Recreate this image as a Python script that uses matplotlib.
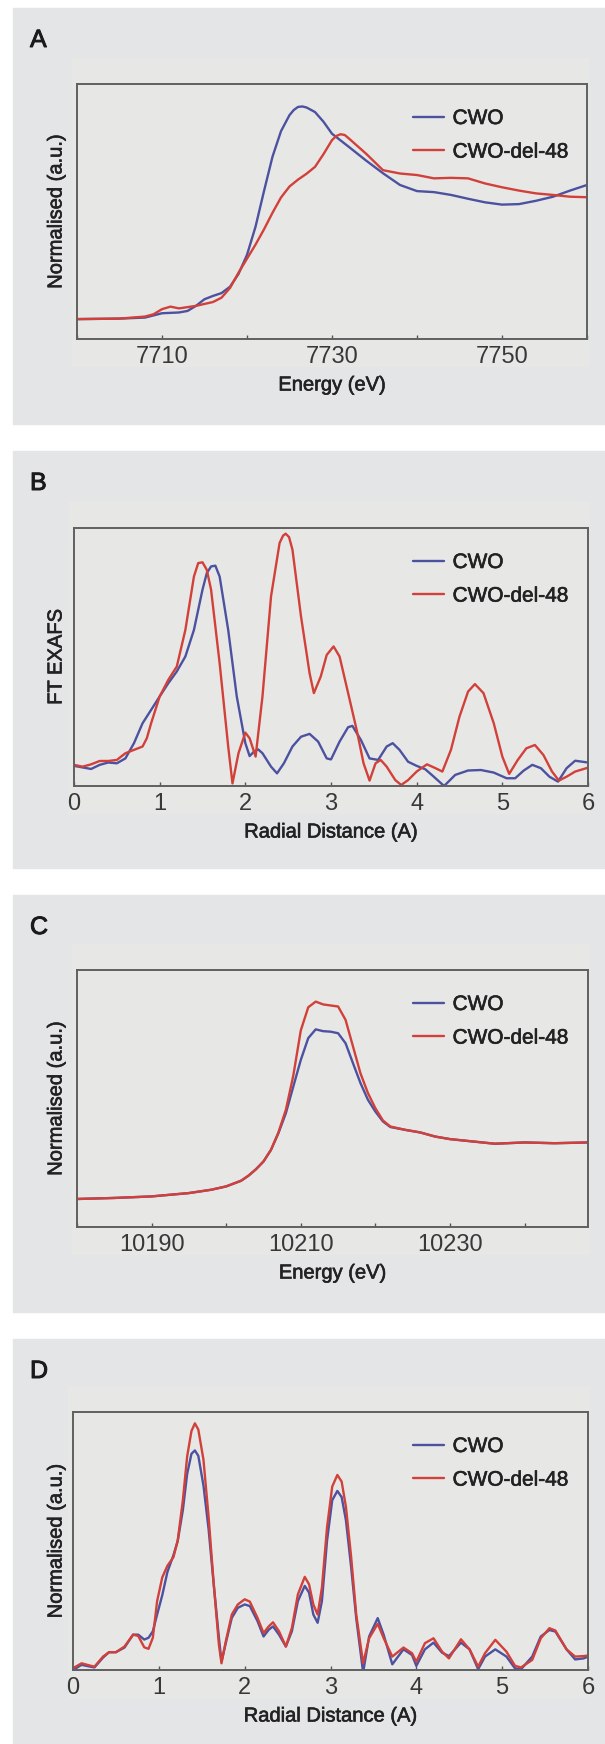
import matplotlib
matplotlib.use('Agg')
import matplotlib.pyplot as plt
import matplotlib.patheffects as pe
from matplotlib.patches import Rectangle
from matplotlib.ticker import MultipleLocator


W, H = 605, 1744

BLUE = '#4c51a0'
RED = '#d2403a'
PANEL_BG = '#e4e5e7'
PLOT_BG = '#e7e8e6'
INK = '#222222'

LABELS = ['CWO', 'CWO-del-48']

# A: Cu K-edge XANES
a_energy_cwo = [7700, 7705, 7708, 7710, 7712, 7713, 7714, 7715, 7716, 7717, 7718, 7719,
                7720, 7721, 7722, 7723, 7724, 7725, 7725.5, 7726, 7726.5, 7727, 7728, 7729,
                7730, 7732, 7734, 7736, 7738, 7740, 7742, 7744, 7746, 7748, 7750, 7752, 7754,
                7756, 7758, 7760]
a_cwo = [0.078, 0.080, 0.084, 0.101, 0.104, 0.110, 0.130, 0.156, 0.169, 0.180, 0.205, 0.255,
         0.330, 0.440, 0.580, 0.715, 0.815, 0.878, 0.898, 0.910, 0.912, 0.908, 0.890, 0.852,
         0.805, 0.753, 0.700, 0.650, 0.604, 0.580, 0.576, 0.565, 0.550, 0.536, 0.527, 0.529,
         0.542, 0.558, 0.582, 0.604]
a_energy_del = [7700, 7705, 7708, 7709, 7710, 7711, 7712, 7714, 7716, 7717, 7718, 7719,
                7720, 7721, 7722, 7723, 7724, 7725, 7726, 7727, 7728, 7729, 7730, 7730.5,
                7731, 7731.5, 7732, 7734, 7736, 7738, 7740, 7742, 7744, 7746, 7748, 7750,
                7752, 7754, 7756, 7758, 7760]
a_del = [0.078, 0.080, 0.088, 0.097, 0.117, 0.127, 0.120, 0.130, 0.145, 0.162, 0.200, 0.260,
         0.315, 0.370, 0.430, 0.495, 0.555, 0.598, 0.625, 0.648, 0.675, 0.725, 0.780, 0.796,
         0.803, 0.800, 0.786, 0.727, 0.662, 0.649, 0.643, 0.630, 0.632, 0.630, 0.610, 0.595,
         0.582, 0.571, 0.565, 0.558, 0.556]

# B: Cu FT EXAFS
b_r_cwo = [0.0, 0.1, 0.2, 0.3, 0.4, 0.5, 0.6, 0.7, 0.8, 0.9, 1.0, 1.1, 1.2, 1.3, 1.4, 1.5,
           1.55, 1.6, 1.65, 1.7, 1.8, 1.9, 2.0, 2.05, 2.1, 2.15, 2.2, 2.3, 2.37, 2.45, 2.55,
           2.65, 2.75, 2.85, 2.95, 3.0, 3.1, 3.2, 3.25, 3.35, 3.45, 3.55, 3.65, 3.72, 3.8,
           3.9, 4.0, 4.1, 4.2, 4.32, 4.45, 4.6, 4.75, 4.9, 5.05, 5.15, 5.25, 5.35, 5.45,
           5.55, 5.65, 5.75, 5.85, 6.0]
b_cwo = [0.078, 0.072, 0.066, 0.082, 0.091, 0.088, 0.107, 0.166, 0.243, 0.295, 0.347, 0.398,
         0.444, 0.502, 0.605, 0.761, 0.825, 0.851, 0.854, 0.812, 0.605, 0.347, 0.166, 0.116,
         0.133, 0.142, 0.127, 0.075, 0.049, 0.088, 0.153, 0.191, 0.202, 0.172, 0.107, 0.103,
         0.172, 0.228, 0.233, 0.178, 0.107, 0.101, 0.153, 0.166, 0.140, 0.094, 0.078, 0.065,
         0.036, 0.000, 0.043, 0.060, 0.062, 0.052, 0.030, 0.030, 0.060, 0.082, 0.069, 0.036,
         0.017, 0.069, 0.098, 0.091]
b_r_del = [0.0, 0.1, 0.2, 0.3, 0.4, 0.5, 0.6, 0.7, 0.8, 0.85, 0.9, 1.0, 1.1, 1.2, 1.3, 1.4,
           1.45, 1.5, 1.55, 1.6, 1.7, 1.8, 1.85, 1.92, 2.0, 2.05, 2.12, 2.2, 2.3, 2.4, 2.44,
           2.47, 2.51, 2.55, 2.65, 2.75, 2.8, 2.88, 2.95, 3.03, 3.1, 3.2, 3.3, 3.38, 3.45,
           3.52, 3.58, 3.65, 3.75, 3.82, 3.9, 4.0, 4.12, 4.22, 4.3, 4.4, 4.5, 4.6, 4.68,
           4.78, 4.9, 5.0, 5.08, 5.18, 5.28, 5.38, 5.48, 5.58, 5.66, 5.75, 5.85, 6.0]
b_del = [0.082, 0.075, 0.084, 0.097, 0.097, 0.101, 0.127, 0.140, 0.153, 0.185, 0.243, 0.347,
         0.411, 0.463, 0.605, 0.812, 0.864, 0.867, 0.838, 0.761, 0.476, 0.153, 0.010, 0.127,
         0.207, 0.185, 0.114, 0.347, 0.735, 0.942, 0.970, 0.978, 0.965, 0.916, 0.657, 0.437,
         0.360, 0.424, 0.508, 0.541, 0.502, 0.360, 0.217, 0.088, 0.021, 0.088, 0.101, 0.075,
         0.023, 0.004, 0.023, 0.056, 0.084, 0.069, 0.056, 0.140, 0.269, 0.366, 0.395, 0.360,
         0.243, 0.114, 0.047, 0.101, 0.146, 0.159, 0.120, 0.056, 0.021, 0.036, 0.056, 0.071]

# C: W L3-edge XANES
c_energy = [10180, 10185, 10190, 10195, 10198, 10200, 10202, 10203, 10204, 10205, 10206,
            10207, 10208, 10209, 10210, 10211, 10212, 10213, 10214, 10215, 10216, 10217,
            10218, 10219, 10220, 10221, 10222, 10224, 10226, 10228, 10230, 10233, 10236,
            10240, 10244, 10248.5]
c_cwo = [0.109, 0.113, 0.119, 0.132, 0.145, 0.158, 0.180, 0.200, 0.225, 0.255, 0.300,
         0.365, 0.443, 0.547, 0.650, 0.735, 0.769, 0.762, 0.760, 0.754, 0.715, 0.637,
         0.560, 0.495, 0.449, 0.411, 0.389, 0.378, 0.368, 0.352, 0.342, 0.333, 0.324,
         0.329, 0.326, 0.329]
c_del = [0.109, 0.113, 0.119, 0.132, 0.145, 0.158, 0.180, 0.200, 0.225, 0.255, 0.300,
         0.368, 0.456, 0.590, 0.765, 0.855, 0.877, 0.866, 0.862, 0.858, 0.806, 0.702,
         0.598, 0.521, 0.462, 0.415, 0.391, 0.378, 0.368, 0.352, 0.342, 0.333, 0.324,
         0.329, 0.326, 0.329]

# D: W FT EXAFS
d_r = [0.0, 0.1, 0.2, 0.25, 0.35, 0.42, 0.5, 0.6, 0.7, 0.76, 0.83, 0.88, 0.93, 0.98, 1.04,
       1.1, 1.17, 1.22, 1.28, 1.33, 1.38, 1.42, 1.46, 1.52, 1.58, 1.64, 1.7, 1.73, 1.78,
       1.85, 1.92, 2.0, 2.06, 2.15, 2.22, 2.28, 2.33, 2.4, 2.48, 2.55, 2.62, 2.7, 2.75, 2.8,
       2.85, 2.9, 2.96, 3.02, 3.08, 3.13, 3.18, 3.24, 3.3, 3.38, 3.45, 3.55, 3.62, 3.72,
       3.85, 3.95, 4.0, 4.1, 4.2, 4.3, 4.38, 4.52, 4.62, 4.72, 4.8, 4.92, 5.05, 5.15, 5.22,
       5.35, 5.45, 5.55, 5.62, 5.75, 5.85, 5.95, 6.0]
d_cwo = [0.000, 0.020, 0.013, 0.010, 0.048, 0.069, 0.069, 0.087, 0.137, 0.137, 0.118, 0.125,
         0.150, 0.215, 0.290, 0.380, 0.445, 0.500, 0.620, 0.760, 0.838, 0.851, 0.830, 0.715,
         0.545, 0.330, 0.125, 0.033, 0.104, 0.202, 0.241, 0.254, 0.248, 0.189, 0.130, 0.156,
         0.169, 0.137, 0.091, 0.150, 0.267, 0.326, 0.300, 0.215, 0.183, 0.267, 0.502, 0.658,
         0.694, 0.670, 0.580, 0.400, 0.200, -0.010, 0.130, 0.201, 0.136, 0.022, 0.080,
         0.058, 0.016, 0.080, 0.106, 0.067, 0.054, 0.106, 0.080, 0.003, 0.052, 0.080, 0.052,
         0.006, 0.003, 0.052, 0.130, 0.155, 0.149, 0.080, 0.041, 0.045, 0.052]
d_del = [0.007, 0.026, 0.017, 0.013, 0.052, 0.069, 0.069, 0.091, 0.137, 0.132, 0.088, 0.082,
         0.125, 0.267, 0.359, 0.404, 0.437, 0.502, 0.658, 0.828, 0.926, 0.956, 0.932, 0.815,
         0.593, 0.332, 0.098, 0.026, 0.111, 0.215, 0.254, 0.274, 0.265, 0.202, 0.143, 0.169,
         0.185, 0.150, 0.091, 0.163, 0.293, 0.361, 0.332, 0.254, 0.215, 0.319, 0.554, 0.711,
         0.756, 0.730, 0.632, 0.440, 0.215, 0.026, 0.123, 0.179, 0.123, 0.052, 0.087, 0.065,
         0.032, 0.104, 0.123, 0.071, 0.045, 0.119, 0.080, 0.013, 0.065, 0.117, 0.071, 0.016,
         0.010, 0.039, 0.123, 0.162, 0.153, 0.080, 0.052, 0.054, 0.056]


plt.rcParams['font.family'] = ['Liberation Sans', 'DejaVu Sans']

# thin outline so the sans text reads as a medium weight
MEDIUM = [pe.withStroke(linewidth=0.45, foreground=INK)]


def rect(x0, y0, x1, y1):
    # pixel box (top-left origin) -> figure fraction
    return [x0 / W, 1 - y1 / H, (x1 - x0) / W, (y1 - y0) / H]


def make_panel(fig, letter, box, axbox, xs, ys, xlim, major, minor, xlabel, ylabel):
    px0, py0, px1, py1 = box
    fig.patches.append(Rectangle((px0 / W, 1 - py1 / H), (px1 - px0) / W, (py1 - py0) / H,
                                 transform=fig.transFigure, color=PANEL_BG, zorder=-2))
    ax0, ay0, ax1, ay1 = axbox
    fig.patches.append(Rectangle(((ax0 - 5) / W, 1 - (ay1 + 27) / H), (ax1 - ax0 + 6) / W,
                                 (ay1 - ay0 + 53) / H, transform=fig.transFigure,
                                 color=PLOT_BG, zorder=-1))
    fig.text(30 / W, 1 - (py0 + 32) / H, letter, fontsize=18, color='#1a1a1a',
             va='center', ha='left',
             path_effects=[pe.withStroke(linewidth=0.7, foreground='#1a1a1a')])

    ax = fig.add_axes(rect(*axbox))
    ax.set_facecolor(PLOT_BG)
    for (x, y), color, label in zip(zip(xs, ys), [BLUE, RED], LABELS):
        ax.plot(x, y, color=color, lw=1.7, label=label,
                solid_joinstyle='round', solid_capstyle='round')
    ax.set_xlim(*xlim)
    ax.set_ylim(0, 1)
    ax.xaxis.set_major_locator(major)
    ax.xaxis.set_minor_locator(minor)
    ax.tick_params(axis='x', which='both', direction='in', length=3, width=1,
                   color='#555555', labelsize=17, labelcolor='#383838', pad=5)
    ax.tick_params(axis='y', left=False, labelleft=False)
    for sp in ax.spines.values():
        sp.set_color('#606060')
        sp.set_linewidth(1.4)

    fig.text((ax0 + ax1) / 2 / W, 1 - (ay1 + 46) / H, xlabel, fontsize=14.5,
             color=INK, ha='center', va='center', path_effects=MEDIUM)
    fig.text(56 / W, 1 - (ay0 + ay1) / 2 / H, ylabel, fontsize=14.5, color=INK,
             ha='center', va='center', rotation=90, path_effects=MEDIUM)

    leg = ax.legend(loc='upper left',
                    bbox_to_anchor=((413 - ax0) / (ax1 - ax0), 1 - 25 / (ay1 - ay0)),
                    frameon=False, fontsize=15, handlelength=1.5, handletextpad=0.4,
                    labelspacing=0.7, borderaxespad=0, borderpad=0)
    for t in leg.get_texts():
        t.set_color(INK)
        t.set_path_effects(MEDIUM)
    return ax


def main():
    fig = plt.figure(figsize=(W / 100, H / 100), dpi=100)
    fig.patch.set_facecolor('white')

    make_panel(fig, 'A', (13, 8, 605, 424), (77, 84, 587, 339),
               [a_energy_cwo, a_energy_del], [a_cwo, a_del], (7700, 7760),
               MultipleLocator(20, offset=10), MultipleLocator(10),
               'Energy (eV)', 'Normalised (a.u.)')
    make_panel(fig, 'B', (13, 451, 605, 868), (74, 528, 588, 786),
               [b_r_cwo, b_r_del], [b_cwo, b_del], (0, 6),
               MultipleLocator(1), MultipleLocator(1),
               'Radial Distance (A)', 'FT EXAFS')
    make_panel(fig, 'C', (13, 895, 605, 1312), (77, 970, 588, 1227),
               [c_energy, c_energy], [c_cwo, c_del], (10180, 10248.5),
               MultipleLocator(20, offset=10), MultipleLocator(10),
               'Energy (eV)', 'Normalised (a.u.)')
    make_panel(fig, 'D', (13, 1339, 605, 1744), (73, 1412, 588, 1670),
               [d_r, d_r], [d_cwo, d_del], (0, 6),
               MultipleLocator(1), MultipleLocator(1),
               'Radial Distance (A)', 'Normalised (a.u.)')

    fig.savefig('out.png', dpi=100, facecolor='white')


if __name__ == '__main__':
    main()
